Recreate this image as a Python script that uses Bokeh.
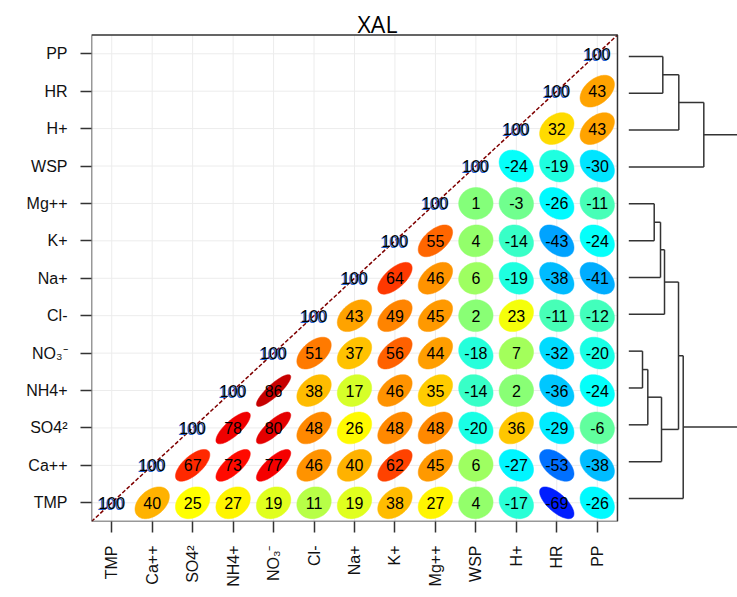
import numpy as np
from bokeh.plotting import figure
from bokeh.models import FixedTicker, Range1d
from bokeh.core.properties import value
from bokeh.embed import file_html
from bokeh.resources import INLINE

# ---------------- data ----------------
title_text = "XAL"
variables = ["TMP", "Ca++", "SO4²", "NH4+", "NO₃⁻", "Cl-", "Na+", "K+",
             "Mg++", "WSP", "H+", "HR", "PP"]

# upper triangle of the correlation matrix (x100); row i holds columns i..12
corr_rows = [
    [100, 40, 25, 27, 19, 11, 19, 38, 27, 4, -17, -69, -26],
    [100, 67, 73, 77, 46, 40, 62, 45, 6, -27, -53, -38],
    [100, 78, 80, 48, 26, 48, 48, -20, 36, -29, -6],
    [100, 86, 38, 17, 46, 35, -14, 2, -36, -24],
    [100, 51, 37, 56, 44, -18, 7, -32, -20],
    [100, 43, 49, 45, 2, 23, -11, -12],
    [100, 64, 46, 6, -19, -38, -41],
    [100, 55, 4, -14, -43, -24],
    [100, 1, -3, -26, -11],
    [100, -24, -19, -30],
    [100, 32, 43],
    [100, 43],
    [100],
]

# hierarchical clustering (merge order, children, merge heights)
dendro_left = ["NO₃⁻", "m1", "Mg++", "m3", "m2", "PP", "m4", "m7", "m6", "m8", "m9", "m11"]
dendro_right = ["NH4+", "SO4²", "K+", "Na+", "Ca++", "HR", "Cl-", "m5", "H+", "TMP", "WSP", "m10"]
dendro_height = [0.137, 0.19, 0.254, 0.317, 0.327, 0.34, 0.357, 0.497, 0.50, 0.544, 0.75, 1.3]

# colour ramp anchors (corr -1 .. 1)
ramp_colors = ["#00007F", "#0000FF", "#007FFF", "#00FFFF", "#7FFF7F",
               "#FFFF00", "#FF7F00", "#FF0000", "#7F0000"]

# ---------------- layout ----------------
n = len(variables)
W, H = 737, 597
LEFT, BOTTOM = 91, 76
cell_w, cell_h = 40.46, 37.42
x_end = -0.5 + (W - LEFT) / cell_w
y_end = -0.5 + (H - BOTTOM) / cell_h

p = figure(width=W, height=H, output_backend="svg", toolbar_location=None,
           x_range=Range1d(-0.5, x_end), y_range=Range1d(-0.5, y_end),
           min_border_left=LEFT, min_border_right=0, min_border_top=0,
           min_border_bottom=BOTTOM)
p.outline_line_color = None
p.xgrid.visible = False
p.ygrid.visible = False
p.background_fill_color = "white"
p.border_fill_color = "white"

font = "Liberation Sans"

for ax, standoff in ((p.xaxis, 13), (p.yaxis, 13)):
    ax.ticker = FixedTicker(ticks=list(range(n)))
    ax.major_label_overrides = {i: v for i, v in enumerate(variables)}
    ax.axis_line_color = None
    ax.major_tick_in = 0
    ax.major_tick_out = 11
    ax.minor_tick_line_color = None
    ax.major_tick_line_color = "#333333"
    ax.major_tick_line_width = 1.5
    ax.major_label_text_font = font
    ax.major_label_text_font_size = "16px"
    ax.major_label_text_color = "#111111"
    ax.major_label_standoff = standoff
p.xaxis.major_label_orientation = np.pi / 2

# grid inside the matrix box
g = list(range(n))
p.segment(x0=g, y0=[-0.5] * n, x1=g, y1=[n - 0.5] * n, line_color="#ececec", line_width=1)
p.segment(x0=[-0.5] * n, y0=g, x1=[n - 0.5] * n, y1=g, line_color="#ececec", line_width=1)


def ramp(v):
    t = (v + 1) / 2 * (len(ramp_colors) - 1)
    i = int(min(np.floor(t), len(ramp_colors) - 2))
    f = t - i
    c0 = [int(ramp_colors[i][k:k + 2], 16) for k in (1, 3, 5)]
    c1 = [int(ramp_colors[i + 1][k:k + 2], 16) for k in (1, 3, 5)]
    c = [round(a + (b - a) * f) for a, b in zip(c0, c1)]
    return "#%02x%02x%02x" % tuple(c)


kk = np.linspace(0, 2 * np.pi, 99)
xs, ys, cols = [], [], []
tx, ty, tt = [], [], []
dx, dy = [], []
for r, row in enumerate(corr_rows):
    for j, v in enumerate(row):
        c = r + j
        if c == r:
            dx.append(c)
            dy.append(r)
            continue
        rho = v / 100
        a = np.arccos(rho)
        xs.append(list(c + 0.85 * np.cos(kk + a / 2) / 2))
        ys.append(list(r + 0.85 * np.cos(kk - a / 2) / 2))
        cols.append(ramp(rho))
        tx.append(c)
        ty.append(r)
        tt.append(str(v))

p.patches(xs=xs, ys=ys, fill_color=cols, line_color=cols, line_width=0.5)

# diagonal dashed line
p.line(x=[-0.5, n - 0.5], y=[-0.5, n - 0.5], line_color="#7F0000", line_width=1.5,
       line_dash="4 2")

p.text(x=tx, y=ty, text=tt, text_align="center", text_baseline="middle",
       text_font=value(font), text_font_size="16px", text_color="black")
diag_txt = [str(corr_rows[r][0]) for r in dy]
p.text(x=dx, y=dy, text=diag_txt, text_align="center", text_baseline="middle",
       text_font=value(font), text_font_size="16px", text_color="#1f5fd0",
       x_offset=-1.5, y_offset=1)
p.text(x=dx, y=dy, text=diag_txt, text_align="center", text_baseline="middle",
       text_font=value(font), text_font_size="16px", text_color="black")

# matrix frame
p.quad(left=[-0.5], right=[n - 0.5], bottom=[-0.5], top=[n - 0.5],
       fill_color=None, line_color="#333333", line_width=1.5)

# dendrogram
leaf_base, leaf_step = 0.115, 0.9844
dendro_x0, dendro_scale = 12.78, 2.4716
pos = {v: (leaf_base + i * leaf_step, 0.0) for i, v in enumerate(variables)}
seg_x0, seg_y0, seg_x1, seg_y1 = [], [], [], []
for m, (lc, rc, h) in enumerate(zip(dendro_left, dendro_right, dendro_height), start=1):
    (yl, hl), (yr, hr) = pos[lc], pos[rc]
    xm = dendro_x0 + h * dendro_scale
    for (yc, hc) in ((yl, hl), (yr, hr)):
        seg_x0.append(dendro_x0 + hc * dendro_scale)
        seg_x1.append(xm)
        seg_y0.append(yc)
        seg_y1.append(yc)
    seg_x0.append(xm)
    seg_x1.append(xm)
    seg_y0.append(yl)
    seg_y1.append(yr)
    pos["m%d" % m] = ((yl + yr) / 2, h)
p.segment(x0=seg_x0, y0=seg_y0, x1=seg_x1, y1=seg_y1, line_color="#333333", line_width=1.5)

# title
p.text(x=[-0.5 + (377 - 91) / cell_w], y=[-0.5 + (521 - 23) / cell_h], text=[title_text],
       text_align="center", text_baseline="alphabetic", text_font=value("Open Sans"),
       text_font_size="23px", text_color="black")

open("out.html", "w").write(file_html(p, INLINE))
